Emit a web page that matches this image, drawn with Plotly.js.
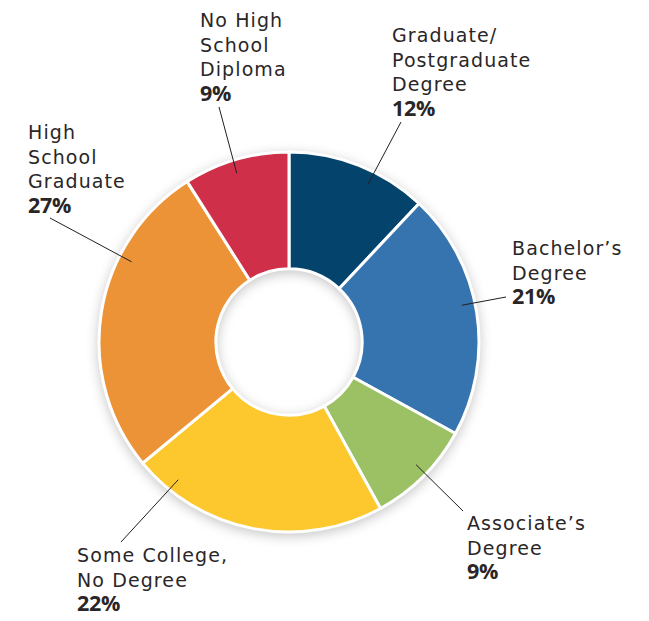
<!DOCTYPE html>
<html>
<head>
<meta charset="utf-8">
<script src="https://cdn.plot.ly/plotly-3.0.1.min.js"></script>
<style>
html,body{margin:0;padding:0;background:#fff;}
#chart{width:649px;height:621px;}
#chart .pielayer{filter:drop-shadow(0px 3px 6px rgba(0,0,0,0.22));}
#chart .annotation-text{letter-spacing:1.1px;}
</style>
</head>
<body>
<div id="chart"></div>
<script>
// ---- data ----
const categories = [
  "Graduate/<br>Postgraduate<br>Degree",
  "Bachelor\u2019s<br>Degree",
  "Associate\u2019s<br>Degree",
  "Some College,<br>No Degree",
  "High<br>School<br>Graduate",
  "No High<br>School<br>Diploma"
];
const shares = [12, 21, 9, 22, 27, 9];
const colors = ["#03436c", "#3574ae", "#9cc064", "#fcc82e", "#eb9336", "#cf2f48"];

// ---- layout helpers (pixels -> paper) ----
const W = 649, H = 621;
const cx = 289, cy = 342, R = 190;
const px = x => x / W;
const py = y => 1 - y / H;

// label block top-left (px) and leader-line end near label (px), tip angle offset (deg)
const labelPos = [[390, 22], [510, 235], [465, 510], [75, 542], [26, 119], [198, 7]];
const leaderEnd = [[401, 122], [506, 297], [463, 511], [121, 542], [50, 218], [219, 107]];
const tipShift = [5, -3, -1, 28, 18, -1];

const total = shares.reduce((a, b) => a + b, 0);
let cum = 0;
const annotations = [], shapes = [];
shares.forEach((v, i) => {
  const mid = (cum + v / 2) / total * 360 + tipShift[i];
  cum += v;
  const a = mid * Math.PI / 180;
  const tr = R * 0.93;
  const tx = cx + tr * Math.sin(a), ty = cy - tr * Math.cos(a);
  shapes.push({
    type: "line", xref: "paper", yref: "paper",
    x0: px(tx), y0: py(ty), x1: px(leaderEnd[i][0]), y1: py(leaderEnd[i][1]),
    line: {color: "#231f20", width: 1}
  });
  annotations.push({
    xref: "paper", yref: "paper",
    x: px(labelPos[i][0]), y: py(labelPos[i][1]),
    xanchor: "left", yanchor: "top", align: "left", showarrow: false,
    text: categories[i] + "<br><b><span style=\"font-family:'Open Sans',sans-serif;font-size:21.5px;letter-spacing:-0.3px\">" + Math.round(v / total * 100) + "%</span></b>",
    font: {family: "DejaVu Sans, sans-serif", size: 19, color: "#2a2627"}
  });
});

const trace = {
  type: "pie",
  values: shares,
  labels: categories.map(c => c.replace(/<br>/g, " ")),
  marker: {colors: colors, line: {color: "#ffffff", width: 3}},
  hole: 0.385,
  sort: false,
  direction: "clockwise",
  rotation: 0,
  textinfo: "none",
  hoverinfo: "none",
  showlegend: false,
  domain: {x: [px(cx - R), px(cx + R)], y: [py(cy + R), py(cy - R)]}
};

Plotly.newPlot("chart", [trace], {
  width: W, height: H,
  margin: {l: 0, r: 0, t: 0, b: 0},
  paper_bgcolor: "#ffffff",
  showlegend: false,
  annotations: annotations,
  shapes: shapes
}, {displayModeBar: false, staticPlot: true});
</script>
</body>
</html>
